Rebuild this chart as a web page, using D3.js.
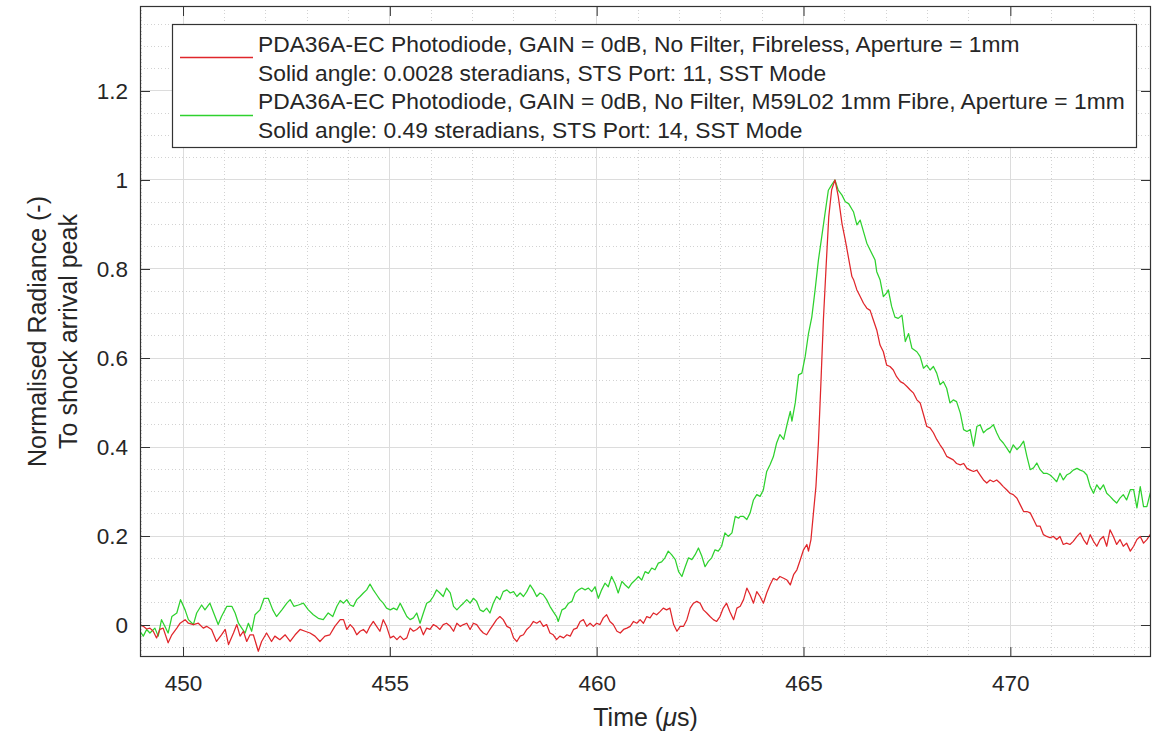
<!DOCTYPE html>
<html>
<head>
<meta charset="utf-8">
<script src="https://cdn.jsdelivr.net/npm/d3@7"></script>
<style>
  html, body { margin: 0; padding: 0; background: #ffffff; }
  svg { display: block; font-family: "Liberation Sans", Arial, Helvetica, sans-serif; }
</style>
</head>
<body>
<svg id="chart" width="1155" height="735"></svg>
<script>
// ---------------- data ----------------
const redTime = [448.96,449.04,449.12,449.20,449.28,449.36,449.44,449.52,449.64,449.73,449.85,449.93,450.05,450.13,450.25,450.37,450.49,450.57,450.69,450.81,450.93,451.02,451.10,451.22,451.30,451.38,451.46,451.54,451.62,451.70,451.82,451.90,452.02,452.14,452.22,452.34,452.47,452.59,452.71,452.83,452.95,453.07,453.19,453.31,453.43,453.55,453.67,
453.80,453.88,453.96,454.04,454.12,454.20,454.28,454.36,454.44,454.52,454.60,454.68,454.76,454.84,454.92,455.01,455.09,455.17,455.25,455.33,455.41,455.49,455.57,455.65,455.73,455.81,455.89,455.97,456.05,456.13,456.21,456.29,456.37,456.46,456.54,456.62,456.70,456.78,456.86,456.94,457.02,457.10,457.18,457.26,457.34,457.42,457.50,457.58,457.66,457.74,457.83,457.91,457.99,458.07,458.15,458.23,458.31,458.39,458.47,458.55,
458.63,458.71,458.79,458.87,458.95,459.03,459.11,459.20,459.28,459.36,459.44,459.52,459.60,459.68,459.76,459.84,459.92,460.00,460.08,460.16,460.24,460.32,460.40,460.49,460.57,460.65,460.73,460.81,460.89,460.97,461.05,461.13,461.21,461.29,461.37,461.45,461.53,461.61,461.69,461.77,461.86,461.94,462.02,462.10,462.18,462.26,462.34,462.42,462.50,462.58,462.66,462.74,462.82,462.90,462.98,463.06,463.14,463.22,463.31,463.39,
463.47,463.55,463.63,463.71,463.79,463.87,463.95,464.03,464.11,464.19,464.27,464.35,464.43,464.52,464.60,464.68,464.76,464.84,464.92,465.00,465.08,465.12,465.18,465.24,465.30,465.36,465.42,465.48,465.55,465.61,465.68,465.76,465.84,465.93,466.01,466.09,466.17,
466.21,466.29,466.37,466.45,466.53,466.61,466.69,466.77,466.85,466.93,467.01,467.09,467.17,467.25,467.34,467.42,467.50,467.58,467.66,467.74,467.82,467.90,467.98,468.06,468.14,468.22,468.30,468.38,468.46,468.54,468.62,468.70,468.79,468.87,468.95,469.03,469.11,469.19,469.27,469.35,469.43,469.51,469.59,469.67,469.75,469.83,469.91,469.99,470.07,470.16,470.24,470.32,470.40,470.48,470.56,470.64,470.72,470.80,470.88,470.96,471.04,471.12,471.20,471.28,471.36,471.44,471.52,471.61,471.69,471.77,471.85,471.93,472.01,472.09,472.17,472.25,472.33,472.41,472.49,472.57,472.65,472.73,472.81,472.90,472.98,473.06,473.14,473.22,473.30,473.38,473.46];
const redValue = [0.001,-0.003,-0.009,-0.007,-0.014,-0.029,-0.010,-0.007,-0.040,-0.022,-0.007,0.004,0.012,0.004,0.001,0.004,-0.007,-0.003,-0.010,-0.037,-0.022,-0.010,-0.044,-0.018,0.001,-0.025,-0.014,-0.037,-0.022,-0.022,-0.059,-0.037,-0.018,-0.037,-0.025,-0.033,-0.022,-0.037,-0.022,-0.010,-0.014,-0.018,-0.025,-0.037,-0.025,-0.022,-0.003,
0.012,0.012,-0.010,0.001,-0.007,-0.022,-0.014,-0.010,-0.018,-0.003,0.008,-0.003,-0.014,0.012,-0.003,-0.029,-0.025,-0.033,-0.025,-0.033,-0.029,-0.007,-0.014,-0.010,-0.003,-0.022,-0.007,-0.010,0.001,-0.003,-0.010,0.001,0.004,-0.003,-0.014,0.004,-0.003,0.001,0.004,-0.010,0.004,0.001,-0.010,-0.018,-0.022,-0.010,0.001,0.012,0.019,0.012,-0.003,-0.007,-0.029,-0.037,-0.025,-0.022,-0.010,-0.003,0.008,0.004,
0.009,-0.003,0.001,-0.018,-0.022,-0.033,-0.025,-0.029,-0.022,-0.025,-0.010,-0.007,0.008,0.012,-0.003,0.004,-0.003,0.004,0.001,0.016,0.023,0.008,0.001,-0.014,-0.018,-0.010,-0.007,-0.003,0.008,0.004,0.012,0.004,0.019,0.016,0.027,0.023,0.030,0.038,0.034,0.038,0.001,-0.014,-0.003,-0.003,0.012,0.038,0.049,0.053,0.049,0.034,0.027,0.019,0.012,0.008,0.019,0.038,0.049,0.030,0.012,0.038,
0.042,0.057,0.083,0.068,0.049,0.075,0.064,0.049,0.072,0.090,0.105,0.101,0.109,0.105,0.101,0.090,0.113,0.124,0.146,0.169,0.181,0.166,0.192,0.252,0.311,0.409,0.543,0.685,0.813,0.917,0.978,1.000,0.963,0.902,0.865,0.824,0.783,
0.776,0.753,0.738,0.723,0.712,0.707,0.685,0.663,0.629,0.614,0.584,0.581,0.573,0.558,0.547,0.543,0.536,0.528,0.521,0.506,0.499,0.473,0.446,0.443,0.432,0.417,0.405,0.394,0.379,0.375,0.371,0.363,0.360,0.363,0.352,0.348,0.345,0.348,0.337,0.326,0.319,0.326,0.322,0.326,0.319,0.311,0.304,0.296,0.293,0.285,0.270,0.255,0.255,0.252,0.237,0.222,0.222,0.203,0.199,0.196,0.199,0.192,0.199,0.181,0.184,0.181,0.188,0.199,0.207,0.192,0.181,0.203,0.188,0.177,0.192,0.199,0.177,0.214,0.199,0.181,0.192,0.177,0.184,0.166,0.177,0.192,0.199,0.184,0.192,0.203,0.199];

const greenTime = [448.96,449.04,449.12,449.20,449.32,449.40,449.48,449.56,449.64,449.73,449.85,449.94,450.05,450.13,450.25,450.33,450.45,450.53,450.65,450.73,450.85,450.93,451.06,451.18,451.26,451.34,451.42,451.50,451.58,451.66,451.74,451.86,451.96,452.06,452.17,452.26,452.39,452.51,452.59,452.68,452.79,452.91,453.03,453.15,453.27,453.39,453.51,453.62,453.72,
453.80,453.88,453.96,454.04,454.12,454.20,454.28,454.36,454.44,454.52,454.60,454.68,454.76,454.84,454.92,455.01,455.09,455.17,455.25,455.33,455.41,455.49,455.57,455.65,455.73,455.81,455.89,455.97,456.05,456.13,456.21,456.29,456.37,456.46,456.54,456.62,456.70,456.78,456.86,456.94,457.02,457.10,457.18,457.26,457.34,457.42,457.50,457.58,457.66,457.74,457.83,457.91,457.99,458.07,458.15,458.23,458.31,458.39,458.47,458.55,
458.63,458.71,458.79,458.87,458.95,459.03,459.07,459.16,459.24,459.32,459.40,459.48,459.56,459.64,459.72,459.80,459.88,459.96,460.04,460.12,460.20,460.28,460.36,460.44,460.52,460.61,460.69,460.77,460.85,460.93,461.01,461.09,461.17,461.25,461.33,461.41,461.49,461.57,461.65,461.73,461.81,461.90,461.98,462.06,462.14,462.22,462.30,462.38,462.46,462.54,462.62,462.70,462.78,462.86,462.94,463.02,463.10,463.18,463.27,463.35,463.43,
463.47,463.55,463.63,463.71,463.79,463.87,463.95,464.03,464.11,464.19,464.27,464.35,464.43,464.52,464.60,464.68,464.72,464.80,464.88,464.96,465.04,465.12,465.20,465.28,465.36,465.44,465.52,465.60,465.68,465.76,465.84,465.93,466.01,466.09,466.21,466.29,466.37,466.53,
466.73,466.77,466.85,466.93,467.01,467.05,467.13,467.21,467.29,467.38,467.46,467.54,467.62,467.74,467.82,467.90,467.98,468.06,468.14,468.22,468.30,468.38,468.46,468.54,468.62,468.70,468.79,468.87,468.95,469.03,469.11,469.19,469.27,469.35,469.43,469.51,469.59,469.67,469.75,469.83,469.91,469.99,470.07,470.16,470.24,470.32,470.40,470.48,470.56,470.64,470.72,470.80,470.88,470.96,471.04,471.12,471.20,471.28,471.36,471.44,471.52,471.61,471.69,471.77,471.85,471.93,472.01,472.09,472.17,472.25,472.33,472.41,472.49,472.57,472.65,472.73,472.81,472.90,472.98,473.06,473.14,473.22,473.30,473.38,473.46];
const greenValue = [-0.014,-0.025,-0.010,-0.018,-0.007,-0.025,0.012,-0.003,-0.018,0.019,0.027,0.057,0.034,0.012,0.001,0.027,0.045,0.034,0.049,0.030,0.001,0.019,0.042,0.042,0.027,0.004,-0.007,-0.018,0.004,-0.014,0.023,0.034,0.060,0.060,0.034,0.019,0.034,0.049,0.057,0.042,0.045,0.049,0.034,0.023,0.015,0.012,0.027,0.019,0.042,
0.055,0.049,0.057,0.045,0.042,0.057,0.064,0.072,0.079,0.092,0.079,0.068,0.057,0.049,0.038,0.034,0.038,0.034,0.049,0.034,0.019,0.012,0.016,0.027,0.004,0.027,0.049,0.053,0.064,0.079,0.072,0.064,0.083,0.072,0.042,0.034,0.042,0.049,0.057,0.049,0.060,0.053,0.034,0.030,0.038,0.027,0.049,0.064,0.057,0.075,0.079,0.072,0.075,0.064,0.072,0.064,0.075,0.090,0.079,0.064,
0.072,0.068,0.057,0.042,0.030,0.019,0.008,0.034,0.038,0.049,0.053,0.072,0.079,0.083,0.079,0.083,0.075,0.086,0.060,0.079,0.094,0.086,0.109,0.094,0.072,0.098,0.090,0.083,0.094,0.101,0.109,0.101,0.120,0.116,0.128,0.124,0.139,0.142,0.151,0.166,0.158,0.147,0.120,0.109,0.131,0.151,0.147,0.158,0.173,0.155,0.131,0.143,0.151,0.169,0.166,0.177,0.207,0.199,0.207,0.244,0.240,
0.244,0.244,0.237,0.252,0.281,0.293,0.289,0.304,0.345,0.360,0.378,0.409,0.428,0.417,0.450,0.480,0.458,0.499,0.562,0.566,0.603,0.655,0.692,0.753,0.820,0.872,0.925,0.977,0.989,1.000,0.977,0.966,0.951,0.947,0.928,0.899,0.910,0.858,
0.820,0.794,0.776,0.738,0.746,0.753,0.716,0.692,0.689,0.696,0.637,0.655,0.622,0.614,0.603,0.577,0.584,0.573,0.581,0.566,0.540,0.547,0.532,0.499,0.506,0.502,0.476,0.439,0.435,0.439,0.402,0.446,0.450,0.432,0.439,0.443,0.450,0.432,0.417,0.409,0.398,0.387,0.405,0.394,0.402,0.413,0.379,0.349,0.353,0.364,0.349,0.341,0.341,0.337,0.330,0.322,0.341,0.326,0.337,0.341,0.348,0.352,0.348,0.345,0.337,0.311,0.296,0.315,0.304,0.315,0.296,0.289,0.281,0.274,0.285,0.293,0.281,0.304,0.304,0.263,0.311,0.266,0.266,0.296,0.311];

const xTicks = [450, 455, 460, 465, 470];
const xTickLabels = ["450", "455", "460", "465", "470"];
const yTicks = [0, 0.2, 0.4, 0.6, 0.8, 1.0, 1.2];
const yTickLabels = ["0", "0.2", "0.4", "0.6", "0.8", "1", "1.2"];
const xDomain = [448.96, 473.40];
const yDomain = [-0.0719, 1.391];
const xMinorStep = 1;
const yMinorStep = 0.05;

const legendLabels = [
  ["PDA36A-EC Photodiode, GAIN = 0dB, No Filter, Fibreless, Aperture = 1mm",
   "Solid angle: 0.0028 steradians, STS Port: 11, SST Mode"],
  ["PDA36A-EC Photodiode, GAIN = 0dB, No Filter, M59L02 1mm Fibre, Aperture = 1mm",
   "Solid angle: 0.49 steradians, STS Port: 14, SST Mode"]
];
const seriesColors = ["#e0262b", "#2ed12e"];

// ---------------- layout ----------------
const plot = { left: 140, right: 1151, top: 6, bottom: 657 };
const FONT = 22.5;
const LEGEND_FONT = 22.8;
const LABEL_FONT = 25;
const svg = d3.select("#chart");

const x = d3.scaleLinear().domain(xDomain).range([plot.left, plot.right]);
const y = d3.scaleLinear().domain(yDomain).range([plot.bottom, plot.top]);

// grid: minor (dotted)
const xMinor = d3.range(Math.ceil(xDomain[0]), xDomain[1], xMinorStep).filter(v => !xTicks.includes(v));
const yMinor = d3.range(-0.05, yDomain[1], yMinorStep).map(v => +v.toFixed(2))
  .filter(v => !yTicks.some(t => Math.abs(t - v) < 1e-6));

const grid = svg.append("g");
grid.selectAll("line.xminor").data(xMinor).join("line")
  .attr("x1", d => x(d)).attr("x2", d => x(d))
  .attr("y1", plot.top).attr("y2", plot.bottom)
  .attr("stroke", "#d2d2d2").attr("stroke-width", 1).attr("stroke-dasharray", "1,2.5")
  .attr("shape-rendering", "crispEdges");
grid.selectAll("line.yminor").data(yMinor).join("line")
  .attr("x1", plot.left).attr("x2", plot.right)
  .attr("y1", d => y(d)).attr("y2", d => y(d))
  .attr("stroke", "#d2d2d2").attr("stroke-width", 1).attr("stroke-dasharray", "1,2.5")
  .attr("shape-rendering", "crispEdges");
// grid: major (solid)
grid.selectAll("line.xmajor").data(xTicks).join("line")
  .attr("x1", d => x(d)).attr("x2", d => x(d))
  .attr("y1", plot.top).attr("y2", plot.bottom)
  .attr("stroke", "#dcdcdc").attr("stroke-width", 1).attr("shape-rendering", "crispEdges");
grid.selectAll("line.ymajor").data(yTicks).join("line")
  .attr("x1", plot.left).attr("x2", plot.right)
  .attr("y1", d => y(d)).attr("y2", d => y(d))
  .attr("stroke", "#dcdcdc").attr("stroke-width", 1).attr("shape-rendering", "crispEdges");

// clip
svg.append("clipPath").attr("id", "clip").append("rect")
  .attr("x", plot.left).attr("y", plot.top)
  .attr("width", plot.right - plot.left).attr("height", plot.bottom - plot.top);

const line = d3.line().x(d => x(d[0])).y(d => y(d[1]));
const series = [
  d3.zip(redTime, redValue),
  d3.zip(greenTime, greenValue)
];
const lines = svg.append("g").attr("clip-path", "url(#clip)");
[1, 0].forEach(i => {
  lines.append("path").datum(series[i])
    .attr("fill", "none").attr("stroke", seriesColors[i])
    .attr("stroke-width", 1.25).attr("stroke-linejoin", "round")
    .attr("d", line);
});

// axes
const axisColor = "#333333";
const tickLen = 10;
const gx = svg.append("g").attr("transform", `translate(0,${plot.bottom})`)
  .call(d3.axisBottom(x).tickValues(xTicks).tickFormat((d, i) => xTickLabels[i])
    .tickSizeInner(-tickLen).tickSizeOuter(0).tickPadding(18));
const gxt = svg.append("g").attr("transform", `translate(0,${plot.top})`)
  .call(d3.axisTop(x).tickValues(xTicks).tickFormat("")
    .tickSizeInner(-tickLen).tickSizeOuter(0));
const gy = svg.append("g").attr("transform", `translate(${plot.left},0)`)
  .call(d3.axisLeft(y).tickValues(yTicks).tickFormat((d, i) => yTickLabels[i])
    .tickSizeInner(-tickLen).tickSizeOuter(0).tickPadding(12));
const gyr = svg.append("g").attr("transform", `translate(${plot.right},0)`)
  .call(d3.axisRight(y).tickValues(yTicks).tickFormat("")
    .tickSizeInner(-tickLen).tickSizeOuter(0));

[gx, gxt, gy, gyr].forEach(g => {
  g.select(".domain").remove();
  g.selectAll(".tick line").attr("stroke", axisColor).attr("stroke-width", 1);
  g.selectAll(".tick text").attr("fill", "#262626")
    .style("font-size", FONT + "px").style("font-family", '"Liberation Sans", Arial, sans-serif');
});

// box
svg.append("rect")
  .attr("x", plot.left + 0.5).attr("y", plot.top + 0.5)
  .attr("width", plot.right - plot.left - 1).attr("height", plot.bottom - plot.top - 1)
  .attr("fill", "none").attr("stroke", axisColor).attr("stroke-width", 1.2);

// axis titles
const xTitle = svg.append("text")
  .attr("x", (plot.left + plot.right) / 2).attr("y", 726)
  .attr("text-anchor", "middle").attr("fill", "#262626")
  .style("font-size", LABEL_FONT + "px");
xTitle.append("tspan").text("Time (");
xTitle.append("tspan").attr("font-style", "italic").text("\u03BC");
xTitle.append("tspan").text("s)");

const yMid = (plot.top + plot.bottom) / 2;
svg.append("text")
  .attr("transform", `translate(46,${yMid}) rotate(-90)`)
  .attr("text-anchor", "middle").attr("fill", "#262626")
  .style("font-size", LABEL_FONT + "px")
  .text("Normalised Radiance (-)");
svg.append("text")
  .attr("transform", `translate(77,${yMid}) rotate(-90)`)
  .attr("text-anchor", "middle").attr("fill", "#262626")
  .style("font-size", LABEL_FONT + "px")
  .text("To shock arrival peak");

// legend
const leg = { x: 172.5, y: 24.5, w: 964, h: 123 };
const lg = svg.append("g");
lg.append("rect").attr("x", leg.x).attr("y", leg.y).attr("width", leg.w).attr("height", leg.h)
  .attr("fill", "#ffffff").attr("stroke", "#333333").attr("stroke-width", 1.2);
const rowBase = [52, 80.5, 109, 137.5];
const legendLineY = [57.5, 115.5];
legendLabels.forEach((pair, i) => {
  lg.append("line").attr("x1", 180).attr("x2", 253)
    .attr("y1", legendLineY[i]).attr("y2", legendLineY[i])
    .style("stroke", seriesColors[i]).style("stroke-width", "1.4px");
  pair.forEach((t, j) => {
    lg.append("text").attr("x", 258).attr("y", rowBase[i * 2 + j])
      .attr("fill", "#262626").style("font-size", LEGEND_FONT + "px").text(t);
  });
});
</script>
</body>
</html>
